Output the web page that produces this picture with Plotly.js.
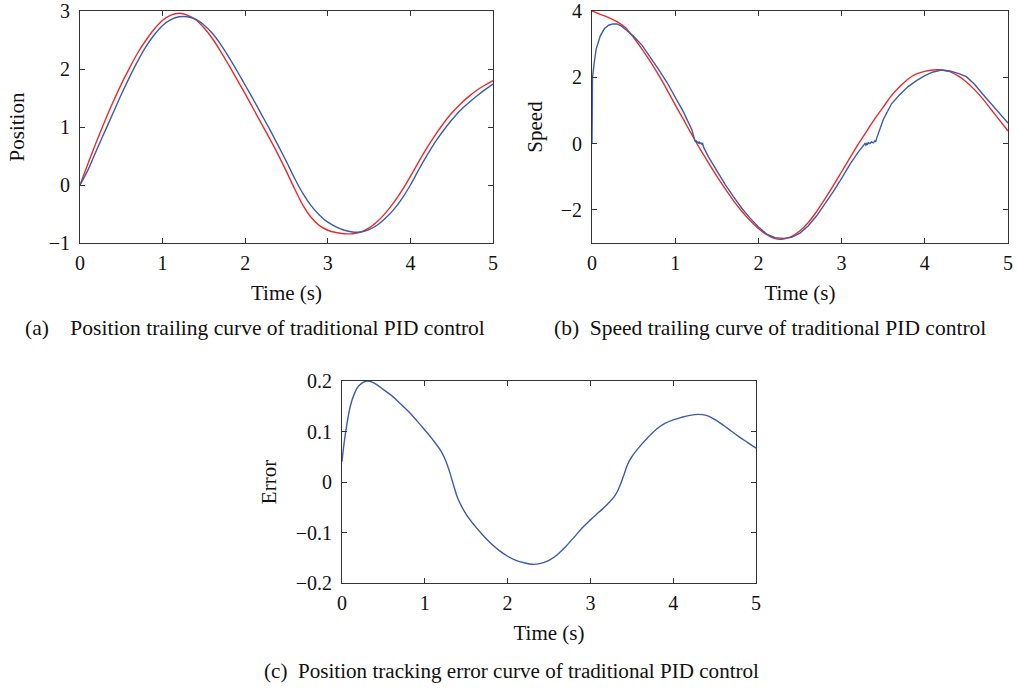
<!DOCTYPE html>
<html>
<head>
<meta charset="utf-8">
<script src="https://cdn.plot.ly/plotly-3.0.1.min.js"></script>
<style>
html,body{margin:0;padding:0;background:#fff;}
#chart{width:1017px;height:690px;}
</style>
</head>
<body>
<div id="chart"></div>
<script>
// ---- Data ----
const timeGrid = [0,0.1,0.2,0.3,0.4,0.5,0.6,0.7,0.8,0.9,1.0,1.1,1.2,1.3,1.4,1.5,1.6,1.7,1.8,1.9,2.0,2.1,2.2,2.3,2.4,2.5,2.6,2.7,2.8,2.9,3.0,3.1,3.2,3.3,3.4,3.5,3.6,3.7,3.8,3.9,4.0,4.1,4.2,4.3,4.4,4.5,4.6,4.7,4.8,4.9,5.0];

// (a) position
const posRef = [0,0.38,0.75,1.10,1.43,1.74,2.02,2.28,2.50,2.69,2.84,2.93,2.96,2.93,2.85,2.71,2.53,2.31,2.07,1.82,1.57,1.31,1.05,0.79,0.52,0.23,-0.07,-0.35,-0.56,-0.70,-0.78,-0.82,-0.84,-0.84,-0.81,-0.74,-0.63,-0.48,-0.30,-0.09,0.15,0.40,0.64,0.86,1.06,1.24,1.39,1.52,1.63,1.72,1.80];
const posPid = [0,0.27,0.60,0.92,1.24,1.56,1.86,2.14,2.39,2.59,2.75,2.85,2.90,2.90,2.86,2.76,2.62,2.43,2.21,1.97,1.72,1.47,1.21,0.95,0.68,0.40,0.11,-0.15,-0.36,-0.52,-0.64,-0.72,-0.78,-0.81,-0.81,-0.77,-0.69,-0.57,-0.42,-0.23,0.00,0.26,0.51,0.74,0.94,1.12,1.28,1.41,1.53,1.64,1.74];

// (b) speed
const spdRef = [4.0,3.9,3.8,3.68,3.5,3.2,2.85,2.48,2.07,1.63,1.17,0.72,0.27,-0.17,-0.58,-0.98,-1.36,-1.72,-2.04,-2.32,-2.56,-2.75,-2.87,-2.88,-2.8,-2.63,-2.38,-2.05,-1.67,-1.27,-0.85,-0.43,-0.02,0.37,0.75,1.1,1.45,1.72,1.95,2.1,2.18,2.22,2.22,2.17,2.04,1.86,1.62,1.34,1.02,0.7,0.38];
const spdPidTime = [0,0.003,0.006,0.03,0.05,0.1,0.15,0.2,0.25,0.3,0.35,0.4,0.5,0.6,0.7,0.8,0.9,1.0,1.1,1.2,1.23,1.24,1.25,1.26,1.27,1.28,1.29,1.30,1.31,1.32,1.33,1.34,1.4,1.5,1.6,1.7,1.8,1.9,2.0,2.1,2.2,2.3,2.4,2.5,2.6,2.7,2.8,2.9,3.0,3.1,3.2,3.27,3.28,3.29,3.30,3.31,3.32,3.34,3.36,3.38,3.40,3.41,3.42,3.5,3.6,3.7,3.8,3.9,4.0,4.1,4.2,4.3,4.4,4.5,4.6,4.7,4.8,4.9,5.0];
const spdPid = [0,1.0,2.0,2.5,2.85,3.25,3.47,3.57,3.61,3.61,3.55,3.45,3.24,2.97,2.62,2.24,1.85,1.42,0.95,0.42,0.12,0.06,0.10,0.02,0.06,0.0,0.04,0.0,0.02,-0.02,0.0,-0.1,-0.4,-0.82,-1.23,-1.6,-1.95,-2.25,-2.52,-2.73,-2.84,-2.86,-2.83,-2.7,-2.48,-2.18,-1.82,-1.45,-1.05,-0.63,-0.26,-0.03,0.0,-0.06,0.02,-0.04,0.03,0.0,0.05,0.02,0.08,0.05,0.15,0.72,1.2,1.48,1.72,1.9,2.05,2.16,2.22,2.19,2.12,2.02,1.78,1.48,1.2,0.92,0.62];

// (c) position tracking error
const errTime = [0,0.02,0.05,0.1,0.15,0.2,0.3,0.4,0.5,0.6,0.7,0.8,0.9,1.0,1.1,1.2,1.25,1.3,1.35,1.4,1.5,1.6,1.7,1.8,1.9,2.0,2.1,2.2,2.3,2.4,2.5,2.6,2.7,2.8,2.9,3.0,3.1,3.2,3.3,3.35,3.4,3.45,3.5,3.6,3.7,3.8,3.9,4.0,4.1,4.2,4.3,4.4,4.5,4.6,4.7,4.8,4.9,5.0];
const errVal = [0.04,0.07,0.105,0.15,0.175,0.19,0.2,0.195,0.183,0.171,0.156,0.140,0.122,0.103,0.083,0.060,0.043,0.02,-0.008,-0.033,-0.064,-0.086,-0.105,-0.122,-0.136,-0.147,-0.155,-0.160,-0.163,-0.161,-0.155,-0.144,-0.128,-0.110,-0.091,-0.075,-0.060,-0.045,-0.026,-0.01,0.012,0.035,0.05,0.071,0.089,0.105,0.116,0.123,0.128,0.132,0.134,0.132,0.124,0.113,0.101,0.089,0.078,0.067];

// axis labels and captions
const xTitle = 'Time (s)';
const yTitles = ['Position', 'Speed', 'Error'];
const captions = [
  '(a)\u00a0\u00a0\u00a0 Position trailing curve of traditional PID control',
  '(b)\u00a0 Speed trailing curve of traditional PID control',
  '(c)\u00a0 Position tracking error curve of traditional PID control'
];

// ---- Layout helpers ----
const W = 1017, H = 690;
const RED = '#ec2a2c', BLUE = '#3a5cab';
const FONT = '"Liberation Serif", "Times New Roman", serif';
const px2x = p => p / W;
const px2y = p => 1 - p / H;

function axisBase(extra) {
  return Object.assign({
    showgrid: false, zeroline: false,
    showline: true, linecolor: '#333', linewidth: 1, mirror: 'ticks',
    ticks: 'inside', ticklen: 5, tickcolor: '#333', tickwidth: 1,
    tickfont: {family: FONT, size: 20, color: '#111'},
    fixedrange: true
  }, extra);
}

const lineOpts = (c) => ({color: c, width: 1.4, shape: 'spline', smoothing: 1});

const traces = [
  {x: timeGrid, y: posRef, xaxis: 'x', yaxis: 'y', type: 'scatter', mode: 'lines', line: lineOpts(RED), name: 'reference'},
  {x: timeGrid, y: posPid, xaxis: 'x', yaxis: 'y', type: 'scatter', mode: 'lines', line: lineOpts(BLUE), name: 'PID'},
  {x: timeGrid, y: spdRef, xaxis: 'x2', yaxis: 'y2', type: 'scatter', mode: 'lines', line: lineOpts(RED), name: 'reference'},
  {x: spdPidTime, y: spdPid, xaxis: 'x2', yaxis: 'y2', type: 'scatter', mode: 'lines', line: {color: BLUE, width: 1.4}, name: 'PID'},
  {x: errTime, y: errVal, xaxis: 'x3', yaxis: 'y3', type: 'scatter', mode: 'lines', line: lineOpts(BLUE), name: 'error'}
];

const titleFont = {family: FONT, size: 21, color: '#111'};
const capFont = {family: FONT, size: 21.5, color: '#111'};
const capFontC = {family: FONT, size: 21.1, color: '#111'};

const layout = {
  width: W, height: H,
  margin: {l: 0, r: 0, t: 0, b: 0},
  paper_bgcolor: '#fff', plot_bgcolor: '#fff',
  showlegend: false,
  xaxis: axisBase({domain: [px2x(80), px2x(493)], range: [0, 5], dtick: 1, anchor: 'y', ticklabelstandoff: 2,
    title: {text: xTitle, font: titleFont, standoff: 12}}),
  yaxis: axisBase({domain: [px2y(243), px2y(11)], range: [-1, 3], dtick: 1, anchor: 'x', ticklabelstandoff: 5,
    title: {text: yTitles[0], font: titleFont, standoff: 18}}),
  xaxis2: axisBase({domain: [px2x(592), px2x(1008)], range: [0, 5], dtick: 1, anchor: 'y2', ticklabelstandoff: 2,
    title: {text: xTitle, font: titleFont, standoff: 12}}),
  yaxis2: axisBase({domain: [px2y(243), px2y(11)], range: [-3, 4], tickvals: [-2, 0, 2, 4], anchor: 'x2', ticklabelstandoff: 5,
    title: {text: yTitles[1], font: titleFont, standoff: 12}}),
  xaxis3: axisBase({domain: [px2x(342), px2x(756)], range: [0, 5], dtick: 1, anchor: 'y3', ticklabelstandoff: 2,
    title: {text: xTitle, font: titleFont, standoff: 12}}),
  yaxis3: axisBase({domain: [px2y(583), px2y(381)], range: [-0.2, 0.2], dtick: 0.1, anchor: 'x3', ticklabelstandoff: 5,
    title: {text: yTitles[2], font: titleFont, standoff: 13}}),
  annotations: [
    {text: captions[0], xref: 'paper', yref: 'paper', x: px2x(23), y: px2y(328), xanchor: 'left', yanchor: 'middle', showarrow: false, font: capFont},
    {text: captions[1], xref: 'paper', yref: 'paper', x: px2x(552), y: px2y(328), xanchor: 'left', yanchor: 'middle', showarrow: false, font: capFont},
    {text: captions[2], xref: 'paper', yref: 'paper', x: px2x(262), y: px2y(671), xanchor: 'left', yanchor: 'middle', showarrow: false, font: capFontC}
  ]
};

Plotly.newPlot('chart', traces, layout, {displayModeBar: false, staticPlot: true});
</script>
</body>
</html>
